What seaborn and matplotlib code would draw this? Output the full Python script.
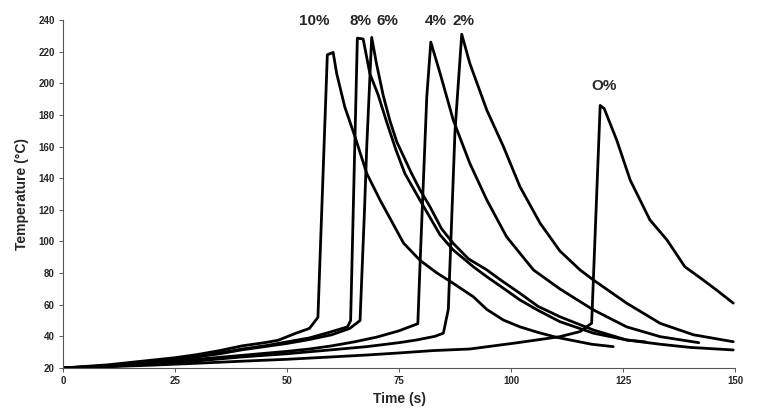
import numpy as np
import pandas as pd
import matplotlib
matplotlib.use("Agg")
import matplotlib.pyplot as plt
import seaborn as sns

# ---- data ----
t_10 = [0, 5, 10, 15, 20, 25, 30, 35, 40, 45, 48, 52, 55, 56.9, 59.0, 60.3, 61.1, 62.9, 65.2, 67.8, 70.8, 76, 79.7, 83.5, 87.1, 91.6, 94.6, 98.3, 102, 106, 110, 113.2, 118, 122.8]
T_10 = [20, 21, 22, 23.5, 25, 26.5, 28.5, 31, 34, 36, 37.5, 42, 45, 52, 218, 219.5, 206, 185, 166, 143, 126, 99, 88, 80, 73.5, 65, 57, 50.3, 46, 42.5, 39.5, 37.7, 35, 33.5]

t_8 = [0, 10, 20, 30, 35, 40, 45, 50, 55, 60, 63.5, 64.2, 65.7, 67, 68.5, 70.3, 72.3, 74.3, 76.3, 79.7, 84.2, 87.1, 91.6, 94.6, 98, 102, 106, 110.9, 118.4, 125.8, 130]
T_8 = [20, 21.5, 24, 27.5, 29.5, 32, 34, 36.5, 39, 43, 46, 50, 228.5, 228, 206, 193, 175, 158, 143, 126, 104, 94.6, 84, 77.7, 71, 63, 56.5, 49.3, 42, 37.7, 36.5]

t_6 = [0, 10, 20, 30, 35, 40, 45, 50, 55, 60, 64, 66.3, 67.3, 67.8, 68.9, 70, 71.5, 73, 74.5, 77.8, 79.7, 81.9, 84.5, 87.1, 90.5, 94.6, 98, 102, 106, 110.9, 118.4, 125.8, 133.3, 140, 149.6]
T_6 = [20, 21.3, 23.5, 27, 29, 31.5, 33.5, 35.5, 38, 41, 45, 50, 120, 160, 229, 212, 192, 176, 163, 143, 132.5, 122, 108, 98.8, 89, 82, 75, 67.2, 59, 52.4, 44, 37.7, 35, 33, 31.4]

t_4 = [0, 10, 20, 30, 40, 50, 55, 60, 65, 70, 75, 79.2, 79.7, 81.2, 82.1, 84.2, 87.1, 90.8, 94.6, 99, 105, 110.9, 115.4, 118.4, 125.8, 133.3, 141.9]
T_4 = [20, 21, 23, 25.5, 28, 30.5, 32, 34, 36.5, 39.5, 43.5, 48, 86, 191.5, 226, 206, 176.8, 149.4, 126.2, 103, 82, 70, 62, 56.7, 46, 39.8, 36]

t_2 = [0, 10, 20, 30, 40, 50, 60, 67.8, 75, 78.9, 83, 84.9, 86, 87.5, 89, 90.8, 94.6, 98.3, 102, 106.5, 110.9, 115.4, 118.4, 125.8, 133.3, 140.7, 149.6]
T_2 = [20, 21, 22.5, 24.5, 27, 29, 31.5, 33.5, 36, 37.7, 40, 42, 57, 170, 231, 212.6, 183, 160, 134.6, 111.5, 94, 82, 75.6, 61, 48.2, 41, 36.6]

t_0 = [0, 10, 20, 30, 40, 50, 60, 67.8, 75, 82.6, 90.8, 97.5, 101.5, 105.7, 110.9, 115.4, 118, 119.9, 120.8, 123.6, 126.6, 131, 134.8, 138.8, 142.9, 146, 149.6]
T_0 = [20, 20.8, 21.8, 23, 24.3, 25.5, 27, 28.2, 29.5, 31, 32, 34.5, 36, 37.7, 39.8, 43, 48.3, 186, 184, 164, 138.8, 113.6, 101, 84, 75.6, 69, 61]

curve_names = ["10%", "8%", "6%", "4%", "2%", "O%"]
label_t = [56, 66.5, 72.5, 83.3, 89.5, 120.8]
label_T = [239.5, 239.5, 239.5, 239.5, 239.5, 198]

x_ticks = [0, 25, 50, 75, 100, 125, 150]
y_ticks = [20, 40, 60, 80, 100, 120, 140, 160, 180, 200, 220, 240]

# ---- build long-format table ----
series = [(t_10, T_10), (t_8, T_8), (t_6, T_6), (t_4, T_4), (t_2, T_2), (t_0, T_0)]
frames = []
for name, (tt, TT) in zip(curve_names, series):
    frames.append(pd.DataFrame({"t": tt, "T": TT, "curve": name}))
df = pd.concat(frames, ignore_index=True)

sns.set_style("ticks")
plt.rcParams["font.family"] = ["Liberation Sans", "DejaVu Sans"]

fig = plt.figure(figsize=(7.58, 4.13), dpi=100)
ax = fig.add_axes([0.0831, 0.109, 0.8866, 0.8426])

sns.lineplot(data=df, x="t", y="T", units="curve", estimator=None, sort=False,
             color="black", linewidth=2.0, ax=ax)

ax.set_xlim(0, 150)
ax.set_ylim(20, 240)
ax.set_xticks(x_ticks)
ax.set_yticks(y_ticks)
ax.set_xticklabels([str(v) for v in x_ticks], fontsize=7, fontweight="bold")
ax.set_yticklabels([str(v) for v in y_ticks], fontsize=7, fontweight="bold")
ax.tick_params(axis="both", length=3, width=0.7, color="#555555", pad=3)

for s in ["top", "right"]:
    ax.spines[s].set_visible(False)
for s in ["left", "bottom"]:
    ax.spines[s].set_linewidth(0.8)
    ax.spines[s].set_color("#555555")

ax.set_xlabel("Time (s)", fontsize=10, fontweight="bold", labelpad=4)
ax.set_ylabel("Temperature (°C)", fontsize=10, fontweight="bold", labelpad=7)

for name, xt, yt in zip(curve_names, label_t, label_T):
    ax.text(xt, yt, name, ha="center", va="center", fontsize=11,
            fontweight="bold", clip_on=False)

fig.savefig("out.png", dpi=100)
